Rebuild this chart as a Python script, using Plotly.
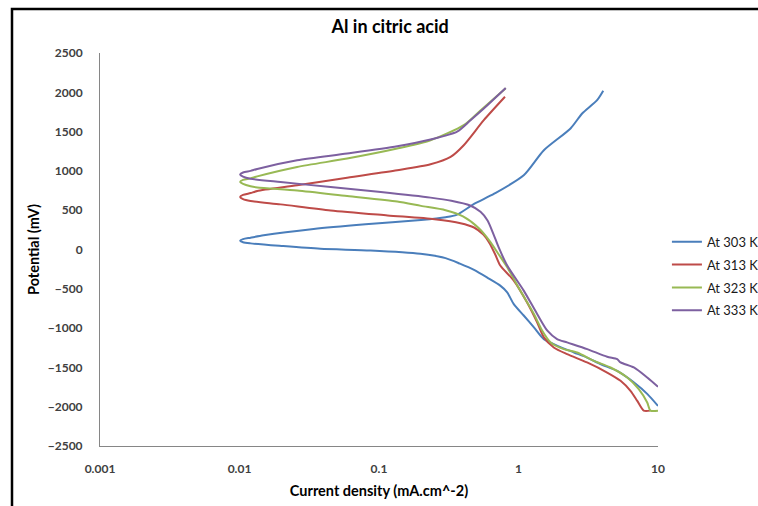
import plotly.graph_objects as go

# ---- data ----
x_303 = [10, 8.4, 6.7, 5.1, 3.9, 3.1, 2.5, 1.9, 1.52, 1.29, 1.09, 0.925, 0.83, 0.74, 0.6, 0.48,
         0.38, 0.3, 0.198, 0.087, 0.038, 0.02, 0.012, 0.0106, 0.0101, 0.0106, 0.012, 0.0149,
         0.034, 0.08, 0.2, 0.3, 0.36, 0.48, 0.67, 1.09, 1.52, 2.36, 2.86, 3.66, 4.05]
y_303 = [-1990, -1840, -1690, -1545, -1460, -1375, -1310, -1225, -1140, -990, -840, -695, -545,
         -460, -360, -260, -180, -110, -55, -13, 9, 45, 78, 92, 111, 132, 150, 180,
         260, 320, 375, 410, 440, 580, 710, 944, 1263, 1540, 1730, 1900, 2020]

x_313 = [8.8, 7.9, 7.1, 6.35, 5.39, 4.32, 3.1, 2.23, 1.79, 1.52, 1.36, 1.15, 0.925, 0.74, 0.68,
         0.62, 0.56, 0.48, 0.384, 0.25, 0.115, 0.045, 0.0197, 0.012, 0.0106, 0.0101, 0.0106,
         0.012, 0.0134, 0.0259, 0.0591, 0.135, 0.234, 0.326, 0.405, 0.564, 0.80]
y_313 = [-2050, -2050, -1926, -1798, -1671, -1565, -1437, -1331, -1246, -1118, -927, -672, -395,
         -204, -60, 80, 190, 280, 335, 385, 434, 497, 574, 616, 640, 667, 694, 718, 744, 816,
         914, 1008, 1084, 1178, 1327, 1645, 1943]

x_323 = [10, 8.83, 8.37, 7.28, 6.02, 4.57, 3.47, 2.63, 2.11, 1.7, 1.48, 1.29, 1.03, 0.83, 0.72,
         0.62, 0.52, 0.4, 0.3, 0.2, 0.135, 0.0591, 0.0259, 0.0134, 0.012, 0.0106, 0.0101, 0.0106,
         0.012, 0.0134, 0.0259, 0.0591, 0.135, 0.234, 0.405, 0.534, 0.81]
y_323 = [-2050, -2050, -1947, -1777, -1629, -1501, -1416, -1310, -1267, -1182, -1033, -820, -523,
         -226, -60, 110, 270, 420, 500, 555, 610, 680, 750, 790, 805, 835, 860, 885, 905, 930,
         1050, 1157, 1284, 1390, 1582, 1770, 2050]

x_333 = [10, 8.37, 6.71, 5.39, 5.1, 4.32, 3.11, 2.23, 1.89, 1.61, 1.36, 1.09, 0.83, 0.72, 0.66,
         0.6, 0.534, 0.45, 0.33, 0.234, 0.103, 0.045, 0.0197, 0.012, 0.0106, 0.0101, 0.0106,
         0.012, 0.0134, 0.0259, 0.0591, 0.135, 0.234, 0.363, 0.453, 0.564, 0.81]
y_333 = [-1747, -1629, -1501, -1437, -1395, -1365, -1267, -1182, -1139, -1033, -820, -523, -204,
         29, 200, 370, 480, 560, 620, 660, 731, 795, 858, 900, 928, 955, 980, 1000, 1025, 1135,
         1221, 1314, 1400, 1500, 1645, 1794, 2055]

series_names = ["At 303 K", "At 313 K", "At 323 K", "At 333 K"]
series_colors = ["#4A7EBB", "#BE4B48", "#98B954", "#7D60A0"]

x_tickvals = [0.001, 0.01, 0.1, 1, 10]
x_ticktext = ["0.001", "0.01", "0.1", "1", "10"]
y_tickvals = [2500, 2000, 1500, 1000, 500, 0, -500, -1000, -1500, -2000, -2500]

FONT = "Lato, 'Open Sans', sans-serif"

fig = go.Figure()
for i, (xs, ys, nm, col) in enumerate(zip([x_303, x_313, x_323, x_333],
                                           [y_303, y_313, y_323, y_333],
                                           series_names, series_colors)):
    fig.add_trace(go.Scatter(x=xs, y=ys, mode="lines", name=nm, legendgroup=f"g{i}",
                             line=dict(color=col, width=2, shape="spline", smoothing=0.7)))

fig.update_layout(
    width=758, height=506,
    margin=dict(l=100, r=100, t=53, b=60, autoexpand=False),
    paper_bgcolor="white", plot_bgcolor="white",
    font=dict(family=FONT, color="#000000"),
    title=dict(text="<b>Al in citric acid</b>", x=0.52, xref="paper", xanchor="center",
               y=1 - 27 / 506, yref="container", yanchor="middle",
               font=dict(size=18, family=FONT, color="#000000")),
    showlegend=True,
    legend=dict(x=1.016, xanchor="left", y=0.558, yanchor="top",
                font=dict(size=13, family=FONT, color="#1a1a1a"),
                bgcolor="rgba(0,0,0,0)", itemwidth=30, traceorder="grouped",
                tracegroupgap=3),
    xaxis=dict(type="log", range=[-3, 1], tickvals=x_tickvals, ticktext=x_ticktext,
               showgrid=False, zeroline=False, showline=True, linecolor="#868686", linewidth=1,
               ticks="", ticklabelstandoff=12,
               tickfont=dict(size=12, family=FONT, color="#404040", weight="bold"),
               title=dict(text="<b>Current density (mA.cm^-2)</b>", standoff=10,
                          font=dict(size=14.5, family=FONT, color="#000000"))),
    yaxis=dict(range=[-2500, 2500], tickvals=y_tickvals,
               showgrid=False, zeroline=False, showline=True, linecolor="#868686", linewidth=1,
               ticks="", ticklabelstandoff=14,
               tickfont=dict(size=12, family=FONT, color="#404040", weight="bold"),
               title=dict(text="<b>Potential (mV)</b>", standoff=4,
                          font=dict(size=14.5, family=FONT, color="#000000"))),
)

# outer chart frame (left and top edges visible in the reference)
fig.add_shape(type="rect", xref="paper", yref="paper",
              x0=(12 - 100) / 558, x1=(780 - 100) / 558,
              y0=(446 - 530) / 393, y1=(446 - 9) / 393,
              line=dict(color="#000000", width=2.5), fillcolor="rgba(0,0,0,0)", layer="below")

fig.write_html("out.html", config={"displayModeBar": False},
               post_script="document.body.style.margin='0';document.body.style.overflow='hidden';")
